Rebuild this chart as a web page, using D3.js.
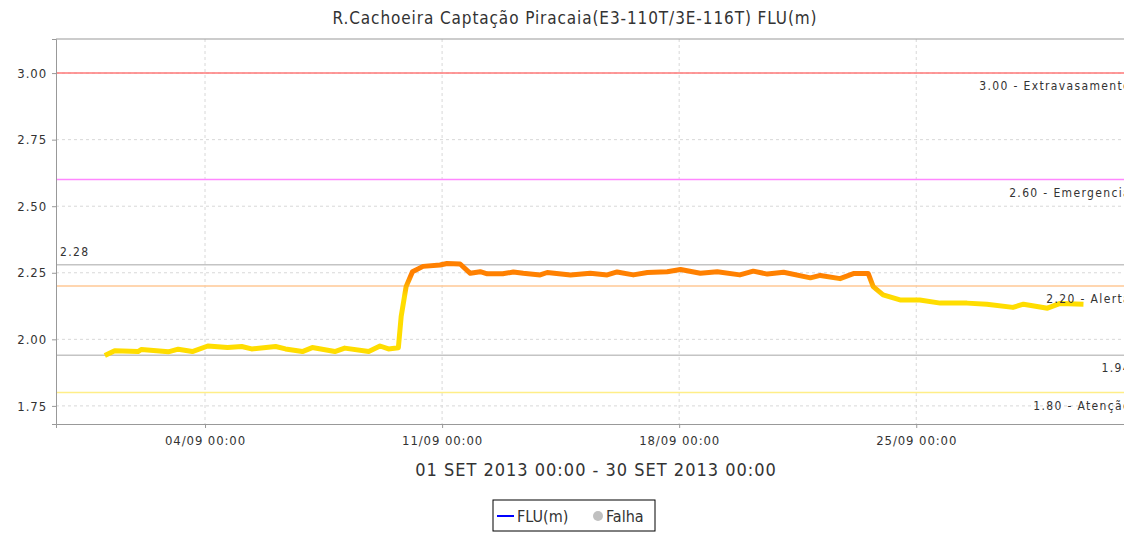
<!DOCTYPE html>
<html>
<head>
<meta charset="utf-8">
<script src="https://cdn.jsdelivr.net/npm/d3@7"></script>
<style>
  body { margin: 0; background: #fff; }
  text { font-family: "DejaVu Sans Condensed", "DejaVu Sans", sans-serif; fill: #333; }
</style>
</head>
<body>
<script>
const w = 1124;
const h = 535;

// level readings (time, FLU in m)
const times = [
  "2013-09-01T01:00", "2013-09-01T08:00", "2013-09-02T00:30", "2013-09-02T03:00",
  "2013-09-02T22:00", "2013-09-03T05:00", "2013-09-03T15:00", "2013-09-04T02:00",
  "2013-09-04T16:00", "2013-09-05T02:00", "2013-09-05T09:00", "2013-09-06T02:00",
  "2013-09-06T09:00", "2013-09-06T21:00", "2013-09-07T04:00", "2013-09-07T20:00",
  "2013-09-08T03:00", "2013-09-08T20:00", "2013-09-09T04:00", "2013-09-09T10:00",
  "2013-09-09T17:00", "2013-09-09T19:00", "2013-09-09T22:30", "2013-09-10T03:00",
  "2013-09-10T10:30", "2013-09-10T22:30", "2013-09-11T03:30", "2013-09-11T12:45",
  "2013-09-11T20:00", "2013-09-12T03:00", "2013-09-12T08:00", "2013-09-12T19:00",
  "2013-09-13T02:30", "2013-09-13T09:30", "2013-09-13T21:30", "2013-09-14T02:30",
  "2013-09-14T19:00", "2013-09-15T09:00", "2013-09-15T21:00", "2013-09-16T04:00",
  "2013-09-16T15:30", "2013-09-17T01:30", "2013-09-17T15:30", "2013-09-18T01:00",
  "2013-09-18T15:00", "2013-09-19T03:00", "2013-09-19T19:00", "2013-09-20T04:30",
  "2013-09-20T14:30", "2013-09-21T02:00", "2013-09-21T21:00", "2013-09-22T04:00",
  "2013-09-22T18:00", "2013-09-23T03:30", "2013-09-23T14:00", "2013-09-23T17:30",
  "2013-09-24T00:30", "2013-09-24T12:30", "2013-09-25T02:30", "2013-09-25T17:00",
  "2013-09-26T12:00", "2013-09-27T02:00", "2013-09-27T20:30", "2013-09-28T04:00",
  "2013-09-28T21:00", "2013-09-29T06:00", "2013-09-29T22:30"
];
const levels = [
  1.939, 1.957, 1.954, 1.962,
  1.953, 1.963, 1.954, 1.975,
  1.969, 1.973, 1.964, 1.973,
  1.964, 1.954, 1.969, 1.954,
  1.967, 1.954, 1.975, 1.964,
  1.968, 2.086, 2.198, 2.254,
  2.274, 2.279, 2.285, 2.283,
  2.248, 2.254, 2.246, 2.246,
  2.253, 2.248, 2.242, 2.251,
  2.242, 2.248, 2.242, 2.253,
  2.242, 2.251, 2.254, 2.262,
  2.248, 2.254, 2.242, 2.256,
  2.245, 2.252, 2.231, 2.240,
  2.228, 2.247, 2.247, 2.198,
  2.167, 2.148, 2.148, 2.136,
  2.136, 2.132, 2.120, 2.132,
  2.117, 2.135, 2.132
];

// reference levels
const refValues = [3.00, 2.60, 2.28, 2.20, 1.94, 1.80];
const refLabels = ["3.00 - Extravasamento", "2.60 - Emergencia", "2.28", "2.20 - Alerta", "1.94", "1.80 - Atenção"];
const refColors = ["#ff7878", "#ff88ff", "#c4c4c4", "#ffc896", "#c4c4c4", "#ffee88"];

const yTicks = [1.75, 2.00, 2.25, 2.50, 2.75, 3.00];
const xTicks = ["2013-09-04T00:00", "2013-09-11T00:00", "2013-09-18T00:00", "2013-09-25T00:00"];

const parse = d3.utcParse("%Y-%m-%dT%H:%M");
const data = times.map((t, i) => ({ t: parse(t), v: levels[i] }));

const pLeft = 56, pTop = 39, pRight = 1133, pBottom = 424;
const dayMs = 864e5;
const start = parse("2013-09-01T00:00"), end = parse("2013-09-30T00:00");

const x = d3.scaleUtc()
  .domain([new Date(+start - 1.4 * dayMs), new Date(+end + 1.4 * dayMs)])
  .range([pLeft, pRight]);
const y = d3.scaleLinear().domain([1.682, 3.128]).range([pBottom, pTop]);

const svg = d3.select("body").append("svg").attr("width", w).attr("height", h);

svg.append("text")
  .attr("x", 575).attr("y", 24)
  .attr("text-anchor", "middle")
  .style("font-size", "17px")
  .style("letter-spacing", "0.9px")
  .text("R.Cachoeira Captação Piracaia(E3-110T/3E-116T) FLU(m)");

// grid
svg.append("g")
  .selectAll("line")
  .data(yTicks)
  .join("line")
  .attr("x1", pLeft).attr("x2", pRight)
  .attr("y1", (d) => y(d)).attr("y2", (d) => y(d))
  .attr("stroke", "#d8d8d8")
  .attr("stroke-dasharray", "3,3");
svg.append("g")
  .selectAll("line")
  .data(xTicks)
  .join("line")
  .attr("x1", (d) => x(parse(d))).attr("x2", (d) => x(parse(d)))
  .attr("y1", pTop).attr("y2", pBottom)
  .attr("stroke", "#d8d8d8")
  .attr("stroke-dasharray", "3,3");

// reference lines
svg.append("g")
  .selectAll("line")
  .data(refValues)
  .join("line")
  .attr("x1", pLeft).attr("x2", pRight)
  .attr("y1", (d) => y(d)).attr("y2", (d) => y(d))
  .attr("stroke", (d, i) => refColors[i])
  .attr("stroke-width", 1.5);

// series coloured by the 2.20 alert level
const grad = svg.append("defs").append("linearGradient")
  .attr("id", "lvl")
  .attr("gradientUnits", "userSpaceOnUse")
  .attr("x1", 0).attr("x2", 0)
  .attr("y1", y(2.24)).attr("y2", y(2.16));
grad.append("stop").attr("offset", 0).attr("stop-color", "#ff8000");
grad.append("stop").attr("offset", 0.5).attr("stop-color", "#ffb000");
grad.append("stop").attr("offset", 1).attr("stop-color", "#ffdd00");

svg.append("path")
  .datum(data)
  .attr("fill", "none")
  .attr("stroke", "url(#lvl)")
  .attr("stroke-width", 5)
  .attr("stroke-linejoin", "round")
  .attr("d", d3.line().x((d) => x(d.t)).y((d) => y(d.v)));

// reference labels
svg.append("g")
  .selectAll("text")
  .data(refValues)
  .join("text")
  .attr("x", (d, i) => (refLabels[i] === "2.28" ? pLeft + 4 : pRight - 2))
  .attr("y", (d, i) => (refLabels[i] === "2.28" ? y(d) - 9 : y(d) + 17))
  .attr("text-anchor", (d, i) => (refLabels[i] === "2.28" ? "start" : "end"))
  .style("font-size", "12px")
  .style("letter-spacing", "1.35px")
  .text((d, i) => refLabels[i]);

// axes
const yAxis = svg.append("g")
  .attr("transform", `translate(${pLeft},0)`)
  .call(d3.axisLeft(y).tickValues(yTicks).tickFormat(d3.format(".2f")).tickSize(4).tickPadding(5));
const xAxis = svg.append("g")
  .attr("transform", `translate(0,${pBottom})`)
  .call(d3.axisBottom(x).tickValues(xTicks.map(parse)).tickFormat(d3.utcFormat("%d/%m %H:%M")).tickSize(4).tickPadding(8));
[yAxis, xAxis].forEach((g) => {
  g.select(".domain").attr("stroke", "#999");
  g.selectAll(".tick line").attr("stroke", "#999");
  g.selectAll("text").style("font-size", "13px").style("letter-spacing", "0.9px").attr("fill", "#333");
});
svg.append("line")
  .attr("x1", pLeft).attr("x2", pRight)
  .attr("y1", pTop).attr("y2", pTop)
  .attr("stroke", "#999");

svg.append("text")
  .attr("x", 596).attr("y", 476)
  .attr("text-anchor", "middle")
  .style("font-size", "18px")
  .style("letter-spacing", "1px")
  .text("01 SET 2013 00:00 - 30 SET 2013 00:00");

// legend
const lg = svg.append("g").attr("transform", "translate(493,500)");
lg.append("rect").attr("width", 162).attr("height", 31)
  .attr("fill", "#fff").attr("stroke", "#000");
lg.append("line").attr("x1", 4).attr("x2", 21).attr("y1", 16).attr("y2", 16)
  .attr("stroke", "#0000ff").attr("stroke-width", 2);
lg.append("text").attr("x", 24).attr("y", 22).style("font-size", "16px").text("FLU(m)");
lg.append("circle").attr("cx", 105).attr("cy", 16).attr("r", 5).attr("fill", "#c0c0c0");
lg.append("text").attr("x", 113).attr("y", 22).style("font-size", "16px").text("Falha");
</script>
</body>
</html>
